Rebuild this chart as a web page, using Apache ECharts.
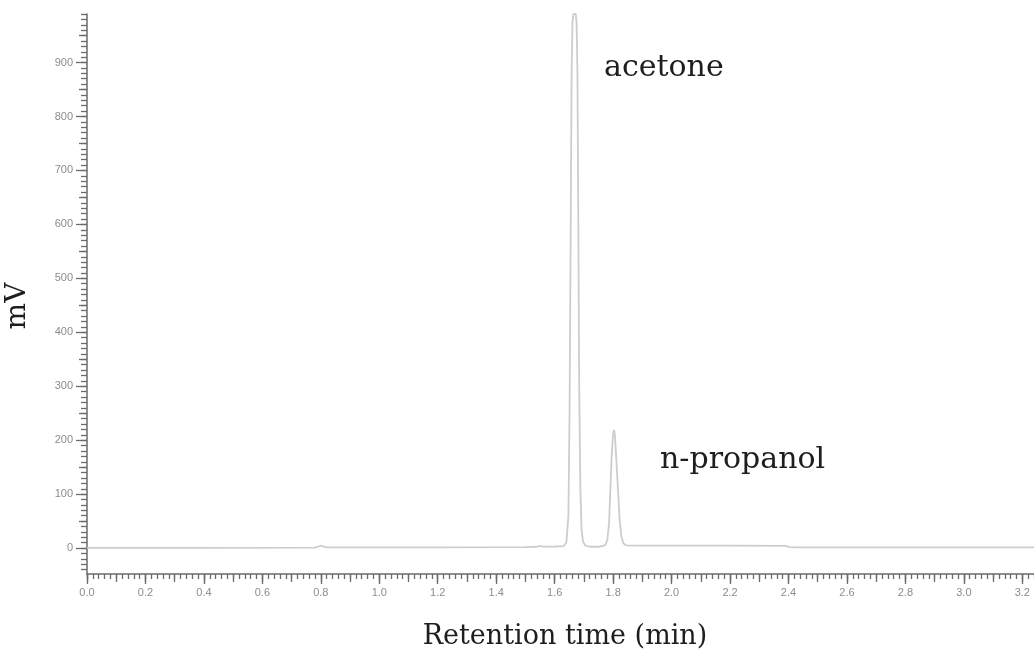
<!DOCTYPE html>
<html>
<head>
<meta charset="utf-8">
<title>Chromatogram: acetone and n-propanol</title>
<script src="https://cdn.jsdelivr.net/npm/echarts@6/dist/echarts.min.js"></script>
<style>
  html, body { margin: 0; padding: 0; background: #ffffff; }
  #chart { width: 1034px; height: 658px; }
</style>
</head>
<body>
<div id="chart"></div>
<script>
// Retention time (min) of each recorded point
const retentionTime = [
  0.000, 0.400, 0.780, 0.792, 0.800, 0.808, 0.820, 1.200, 1.500, 1.540,
  1.550, 1.560, 1.600, 1.630, 1.640, 1.647, 1.651, 1.655, 1.658, 1.661,
  1.664, 1.672, 1.675, 1.678, 1.681, 1.684, 1.688, 1.692, 1.697, 1.704,
  1.720, 1.750, 1.766, 1.774, 1.780, 1.786, 1.790, 1.795, 1.800, 1.803,
  1.806, 1.811, 1.817, 1.822, 1.828, 1.835, 1.845, 1.880, 2.000, 2.200,
  2.390, 2.405, 2.420, 2.800, 3.240
];

// Detector signal (mV) at each point
const signal = [
  0.5, 0.5, 0.8, 3.0, 4.5, 3.0, 1.2, 1.5, 2.0, 2.5,
  4.0, 2.8, 3.0, 3.5, 10, 60, 250, 600, 880, 975,
  990, 990, 975, 880, 600, 300, 110, 35, 12, 5,
  2.5, 2.5, 4, 6, 15, 45, 100, 170, 212, 219,
  210, 165, 105, 55, 22, 9, 5, 4.5, 4.5, 4.5,
  4.2, 2.0, 1.5, 1.5, 1.5
];

// Labelled ticks on each axis
const xTickLabels = [0.0, 0.2, 0.4, 0.6, 0.8, 1.0, 1.2, 1.4, 1.6, 1.8, 2.0, 2.2, 2.4, 2.6, 2.8, 3.0, 3.2];
const yTickLabels = [0, 100, 200, 300, 400, 500, 600, 700, 800, 900];

// Peak names
const peakNames = ['acetone', 'n-propanol'];

const X_MIN = 0, X_MAX = 3.24;
const Y_MIN = -48, Y_MAX = 990;

// Tick positions for the half-step and fine tick rows
const xMidTicks = [], xFineTicks = [];
for (let i = 0; i <= 32; i++) xMidTicks.push(i / 10);
for (let i = 0; i <= 162; i++) xFineTicks.push(i / 50);
const yMidTicks = [], yFineTicks = [];
for (let v = 50; v <= 950; v += 100) yMidTicks.push(v);
for (let v = -40; v <= 990; v += 10) yFineTicks.push(v);

const axisGray = '#6b6b6b';
const labelGray = '#8c8c8c';

function xAxisRow(ticks, len, withLine, withLabels) {
  return {
    type: 'value', min: X_MIN, max: X_MAX, position: 'bottom',
    axisLine: { show: withLine, onZero: false, lineStyle: { color: axisGray, width: 1.5 } },
    axisTick: { show: true, customValues: ticks, length: len, inside: false,
                lineStyle: { color: axisGray, width: 1.3 } },
    axisLabel: withLabels ? {
      show: true, customValues: xTickLabels, margin: 13,
      color: labelGray, fontSize: 11, fontFamily: 'Liberation Sans, Arial, sans-serif',
      formatter: v => Number(v).toFixed(1)
    } : { show: false },
    splitLine: { show: false }
  };
}

function yAxisRow(ticks, len, withLine, withLabels) {
  return {
    type: 'value', min: Y_MIN, max: Y_MAX, position: 'left',
    axisLine: { show: withLine, onZero: false, lineStyle: { color: axisGray, width: 1.5 } },
    axisTick: { show: true, customValues: ticks, length: len, inside: false,
                lineStyle: { color: axisGray, width: 1.3 } },
    axisLabel: withLabels ? {
      show: true, customValues: yTickLabels, margin: 14,
      color: labelGray, fontSize: 11, fontFamily: 'Liberation Sans, Arial, sans-serif'
    } : { show: false },
    splitLine: { show: false }
  };
}

const points = retentionTime.map((t, i) => [t, signal[i]]);

const chart = echarts.init(document.getElementById('chart'), null, { renderer: 'canvas' });
chart.setOption({
  animation: false,
  backgroundColor: '#ffffff',
  grid: { left: 87, right: 0, top: 14, bottom: 84, containLabel: false },
  xAxis: [
    xAxisRow(xTickLabels, 10, true, true),
    xAxisRow(xMidTicks, 8, false, false),
    xAxisRow(xFineTicks, 5, false, false)
  ],
  yAxis: [
    yAxisRow(yTickLabels, 11, true, true),
    yAxisRow(yMidTicks, 8, false, false),
    yAxisRow(yFineTicks, 6, false, false)
  ],
  series: [{
    type: 'line',
    xAxisIndex: 0, yAxisIndex: 0,
    data: points,
    showSymbol: false,
    smooth: false,
    clip: true,
    lineStyle: { color: '#cdcdcd', width: 1.8 }
  }],
  graphic: [
    { type: 'text', left: 604, top: 53,
      style: { text: peakNames[0], font: '30px "DejaVu Serif", serif', fill: '#1e1e1e' } },
    { type: 'text', left: 660, top: 445,
      style: { text: peakNames[1], font: '30px "DejaVu Serif", serif', fill: '#1e1e1e' } },
    { type: 'text', x: 565, y: 623,
      style: { text: 'Retention time (min)', font: '27px "DejaVu Serif", serif', fill: '#1e1e1e',
               textAlign: 'center', textVerticalAlign: 'top' } },
    { type: 'text', x: 4, y: 306, rotation: Math.PI / 2, originX: 0, originY: 0,
      style: { text: 'mV', font: '28px "DejaVu Serif", serif', fill: '#1e1e1e',
               textAlign: 'center', textVerticalAlign: 'top' } }
  ]
});
</script>
</body>
</html>
